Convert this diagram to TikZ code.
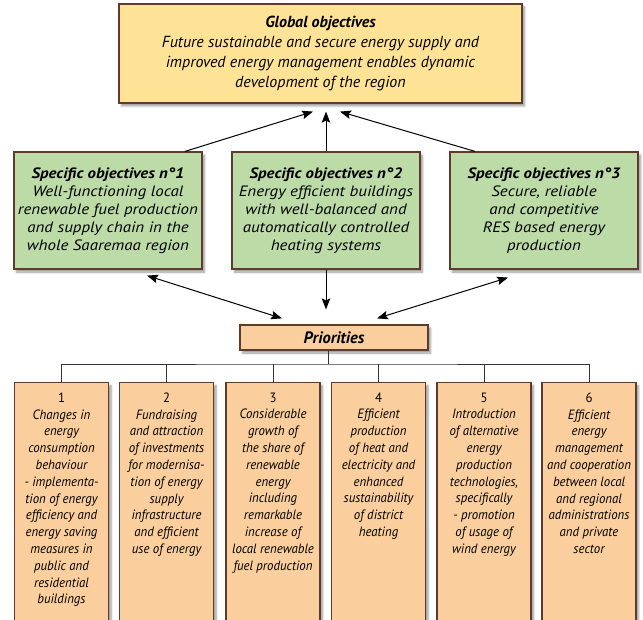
\documentclass[tikz,border=0pt]{standalone}
\usepackage{fontspec}
\setmainfont{PT Sans}
\newfontfamily\specfont[FakeStretch=1.13]{PT Sans}
\newfontfamily\spectitlefont[FakeStretch=1.12]{PT Sans}
\newfontfamily\itemfont[FakeStretch=0.95]{PT Sans}
\usetikzlibrary{arrows.meta,shadows.blur}
\definecolor{globfill}{RGB}{254,226,150}
\definecolor{specfill}{RGB}{188,219,167}
\definecolor{priofill}{RGB}{251,207,157}
\definecolor{boxline}{RGB}{95,58,45}
\tikzset{
    box/.style={draw=boxline, line width=1.2pt,
        blur shadow={shadow xshift=2.5pt, shadow yshift=-3pt, shadow blur steps=6}},
    glob/.style={box, fill=globfill, minimum width=403pt, minimum height=99pt,
        align=center, font=\itshape\fontsize{16}{20}\selectfont},
    spec/.style={box, fill=specfill, minimum width=188pt, minimum height=117pt,
        inner xsep=2pt, align=center, font=\specfont\itshape\fontsize{15}{18}\selectfont},
    prio/.style={box, fill=priofill, minimum width=188pt, minimum height=25pt,
        font=\bfseries\itshape\fontsize{16.5}{18}\selectfont},
    item/.style={box, fill=priofill, anchor=north, inner xsep=1pt, inner ysep=10pt,
        font=\itemfont\fontsize{13.5}{16.8}\selectfont},
    tip/.tip={Stealth[length=11pt, width=8.5pt, inset=2pt]},
    link/.style={line width=1pt, -tip},
    both/.style={line width=1pt, tip-tip},
    tree/.style={line width=0.9pt, draw=black!80}
}
\newcommand{\spectitle}[1]{{\spectitlefont\bfseries #1}}
\newcommand{\itemtext}[1]{\parbox[t][232pt][t]{92pt}{\centering #1}}

\begin{document}
\begin{tikzpicture}[x=1pt, y=-1pt]
    \useasboundingbox (0,0) rectangle (643,620);

    % objectives
    \node[glob] (glob) at (320.5,53.5) {\textbf{Global objectives}\\
        Future sustainable and secure energy supply and\\
        improved energy management enables dynamic\\
        development of the region};

    \node[spec] (spec1) at (108,210.5) {\spectitle{Specific objectives n°1}\\
        Well-functioning local\\ renewable fuel production\\
        and supply chain in the\\ whole Saaremaa region};
    \node[spec] (spec2) at (326,210.5) {\spectitle{Specific objectives n°2}\\
        Energy efficient buildings\\ with well-balanced and\\
        automatically controlled\\ heating systems};
    \node[spec] (spec3) at (544,210.5) {\spectitle{Specific objectives n°3}\\
        Secure, reliable\\ and competitive\\
        RES based energy\\ production};

    \node[prio] (prio) at (334,337.5) {Priorities};

    % priorities
    \node[item] (item1) at (61.5,382) {\itemtext{1\\ \itshape Changes in\\ energy\\ consumption\\ behaviour\\
        - implementa-\\ tion of energy\\ efficiency and\\ energy saving\\ measures in\\ public and\\
        residential\\ buildings}};
    \node[item] (item2) at (166.5,382) {\itemtext{2\\ \itshape Fundraising\\ and attraction\\
        of investments\\ for modernisa-\\ tion of energy\\ supply\\ infrastructure\\
        and efficient\\ use of energy}};
    \node[item] (item3) at (273,382) {\itemtext{3\\ \itshape Considerable\\ growth of\\
        the share of\\ renewable\\ energy\\ including\\ remarkable\\ increase of\\
        local renewable\\ fuel production}};
    \node[item] (item4) at (378.5,382) {\itemtext{4\\ \itshape Efficient\\ production\\
        of heat and\\ electricity and\\ enhanced\\ sustainability\\ of district\\ heating}};
    \node[item] (item5) at (484,382) {\itemtext{5\\ \itshape Introduction\\ of alternative\\
        energy\\ production\\ technologies,\\ specifically\\ - promotion\\ of usage of\\
        wind energy}};
    \node[item] (item6) at (589,382) {\itemtext{6\\ \itshape Efficient\\ energy\\
        management\\ and cooperation\\ between local\\ and regional\\
        administrations\\ and private\\ sector}};

    % arrows
    \draw[link] ([xshift=77pt]spec1.north) -- ([xshift=-7.5pt, yshift=-8pt]glob.south);
    \draw[link] (spec2.north) -- ([yshift=-8pt]glob.south -| spec2.north);
    \draw[link] ([xshift=-69pt]spec3.north) -- ([xshift=19.5pt, yshift=-8pt]glob.south);

    \draw[both] ([xshift=39pt, yshift=-6pt]spec1.south) -- ([xshift=-52pt, yshift=6pt]prio.north);
    \draw[link] (spec2.south) -- ([yshift=15pt]prio.north -| spec2.south);
    \draw[both] ([xshift=-36pt, yshift=-8pt]spec3.south) -- ([xshift=43pt, yshift=6pt]prio.north);

    % tree
    \coordinate (hub) at (328,364);
    \draw[tree] (prio.south -| hub) -- (hub);
    \draw[tree] (item1.north) |- (hub) -| (item6.north);
    \foreach \i in {2,...,5}
        \draw[tree] (item\i.north) -- (item\i.north |- hub);

\end{tikzpicture}
\end{document}
